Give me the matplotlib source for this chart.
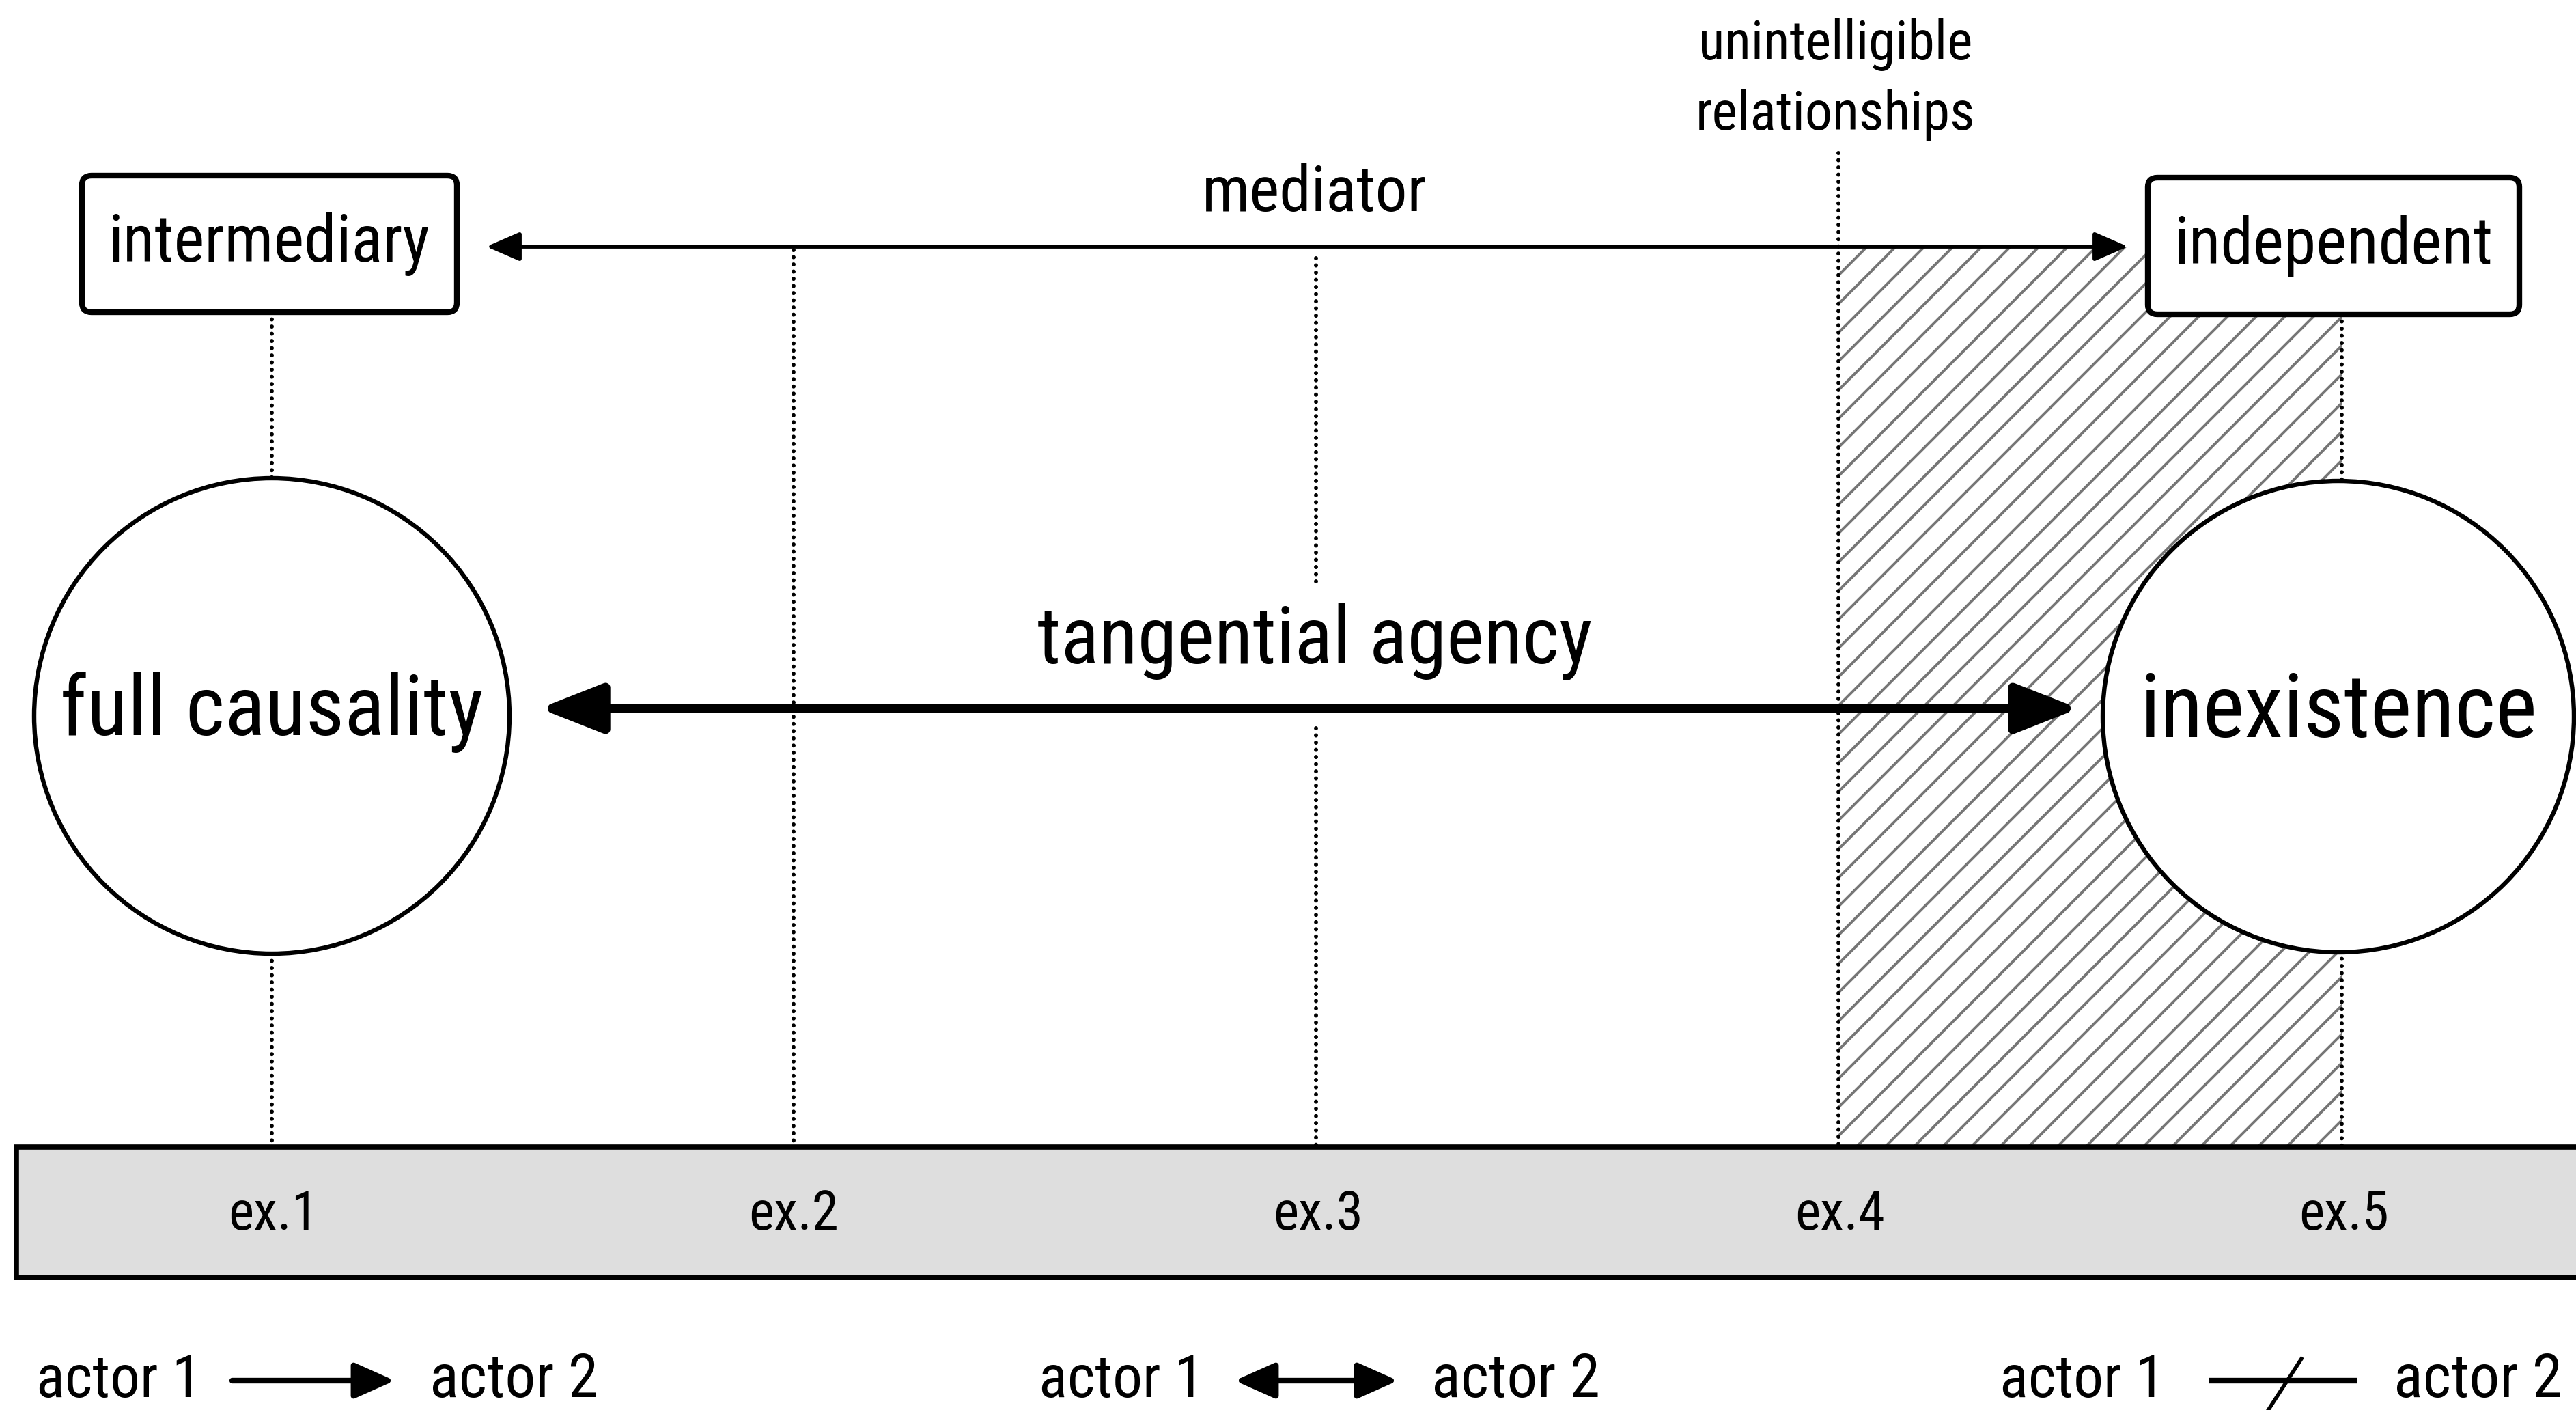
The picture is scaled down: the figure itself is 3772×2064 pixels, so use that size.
import matplotlib
matplotlib.use("Agg")
import matplotlib.pyplot as plt
from matplotlib import font_manager as fm
from matplotlib.patches import Circle, Rectangle, FancyBboxPatch, FancyArrowPatch

# pick a narrow sans face if one is around
avail = {(f.name, f.stretch) for f in fm.fontManager.ttflist}
names = {n for n, s in avail}
font = dict(family=['Liberation Sans', 'DejaVu Sans'])
for cand in ['Liberation Sans Narrow', 'Arial Narrow', 'Roboto Condensed', 'Nimbus Sans Narrow',
             'Open Sans Condensed', 'Noto Sans Condensed']:
    if cand in names:
        font = dict(family=[cand, 'DejaVu Sans'])
        break
else:
    if ('DejaVu Sans', 'condensed') in avail:
        font = dict(family=['DejaVu Sans'], stretch='condensed')

# canvas works in pixel units of the 3773 x 2064 picture
W, H = 3773, 2064

# examples along the base bar
ex_labels = ['ex.1', 'ex.2', 'ex.3', 'ex.4', 'ex.5']
ex_x = [400, 1162, 1930, 2694, 3432]
# dotted guides (x, y_top, y_bottom) per segment
guides = [
    (398, 457, 700), (398, 1396, 1679),
    (1162, 366, 1679),
    (1927, 378, 854), (1927, 1066, 1679),
    (2692, 224, 1679),
    (3429, 460, 705), (3429, 1393, 1679),
]

box_labels = ['intermediary', 'independent']
circle_labels = ['full causality', 'inexistence']
axis_labels = ['mediator', 'tangential agency']
zone_label = ['unintelligible', 'relationships']
actors = ['actor 1', 'actor 2']

fig = plt.figure(figsize=(W / 100, H / 100), dpi=100)
ax = fig.add_axes([0, 0, 1, 1])
ax.set_xlim(0, W)
ax.set_ylim(H, 0)
ax.axis('off')
renderer = fig.canvas.get_renderer()


def label(x, y, s, width, **kw):
    # size the text so that it spans the same width as in the figure
    t = ax.text(x, y, s, fontsize=100, ha='center', va='center', zorder=6, **font, **kw)
    w = t.get_window_extent(renderer).width
    t.set_fontsize(100 * width / w)
    return t


# hatched zone of unintelligible relationships
zx0, zx1, zy0, zy1 = 2692, 3429, 361, 1679
zone = Rectangle((zx0, zy0), zx1 - zx0, zy1 - zy0, facecolor='white', edgecolor='none', zorder=1)
ax.add_patch(zone)
span = zy1 - zy0
for c in range(zx0 - span, zx1 + 42, 42):
    ln, = ax.plot([c, c + span], [zy1, zy0], color='#767676', lw=2.8, zorder=1.5)
    ln.set_clip_path(zone)

# dotted guide lines
for x, y0, y1 in guides:
    ax.plot([x, x], [y0, y1], color='black', lw=4.3, linestyle=(0, (0.01, 1.75)),
            dash_capstyle='round', zorder=2)

# base bar
ax.add_patch(Rectangle((24, 1679), 3850, 1870 - 1679, facecolor='#dedede',
                       edgecolor='black', lw=5.5, zorder=3))
for lab, x in zip(ex_labels, ex_x):
    label(x, 1778, lab, 132)


# arrows
def darrow(x0, x1, y, lw, hl, hw, style='<|-|>'):
    ax.add_patch(FancyArrowPatch((x0, y), (x1, y),
                 arrowstyle=f'{style},head_length={hl},head_width={hw}',
                 mutation_scale=1, lw=lw, color='black', shrinkA=0, shrinkB=0, zorder=4))


darrow(712, 3116, 361, 4.2, 30, 13)
darrow(790, 3044, 1037, 10.0, 56, 22)
label(1925, 284, axis_labels[0], 330)
label(1925, 940, axis_labels[1], 813)

# boxes
for (x0, y0, x1, y1), lab, w in zip([(120, 257, 669, 457), (3145, 260, 3689, 460)],
                                    box_labels, [472, 467]):
    ax.add_patch(FancyBboxPatch((x0, y0), x1 - x0, y1 - y0,
                                boxstyle='round,pad=0,rounding_size=14',
                                facecolor='white', edgecolor='black', lw=6, zorder=5))
    label((x0 + x1) / 2, (y0 + y1) / 2, lab, w)

# circles
for (cx, cy, r), lab, w in zip([(398, 1048, 348), (3424, 1049, 345)], circle_labels, [620, 582]):
    ax.add_patch(Circle((cx, cy), r, facecolor='white', edgecolor='black', lw=4.6, zorder=5))
    label(cx, cy - 6, lab, w)

# label above the hatched zone
label(2688, 65, zone_label[0], 402)
label(2688, 168, zone_label[1], 409)

# legend of relationship types
ly = 2021
label(174, ly, actors[0], 242)
label(753, ly, actors[1], 247)
darrow(340, 578, ly, 6, 36, 16, style='-|>')

label(1642, ly, actors[0], 242)
label(2220, ly, actors[1], 247)
darrow(1808, 2047, ly, 6, 36, 16)

label(3049, ly, actors[0], 242)
label(3629, ly, actors[1], 247)
ax.plot([3234, 3451], [ly, ly], color='black', lw=6, solid_capstyle='butt')
ax.plot([3322, 3370], [ly + 42, ly - 32], color='black', lw=4)

fig.savefig('out.png', dpi=100, facecolor='white')
